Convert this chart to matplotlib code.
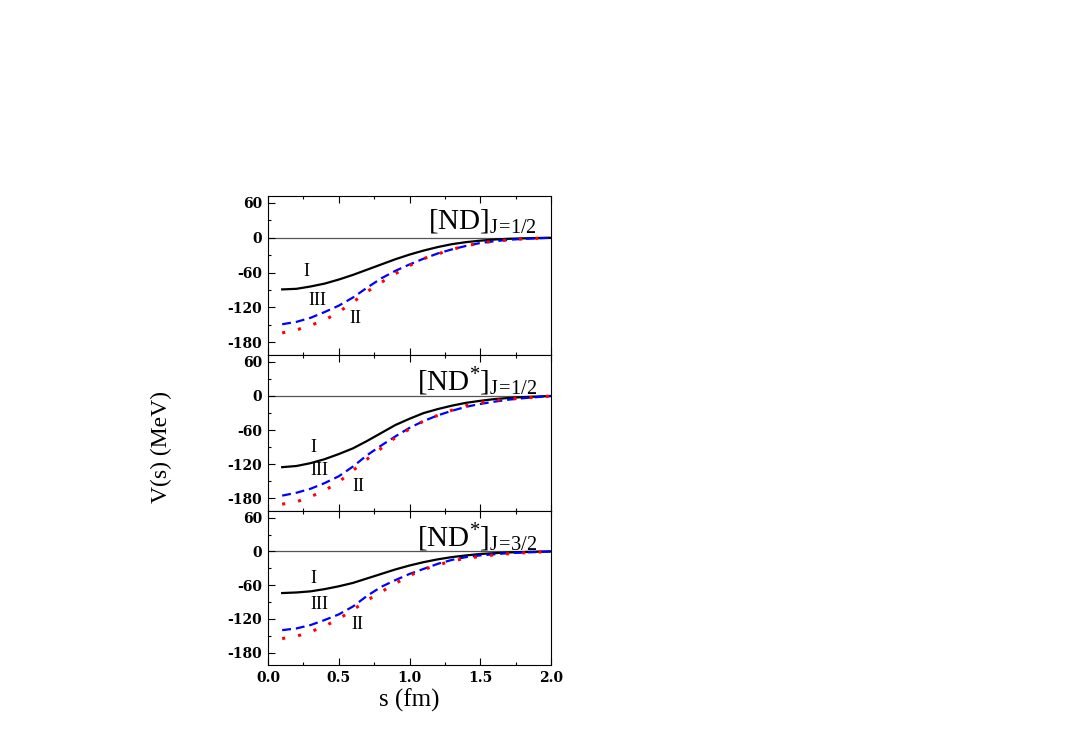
import numpy as np
import matplotlib
matplotlib.use("Agg")
import matplotlib.pyplot as plt
from matplotlib.ticker import MultipleLocator

plt.rcParams['font.family'] = ['Liberation Serif', 'DejaVu Serif']
plt.rcParams['mathtext.fontset'] = 'custom'
plt.rcParams['mathtext.rm'] = 'Liberation Serif'
plt.rcParams['mathtext.it'] = 'Liberation Serif:italic'
plt.rcParams['axes.unicode_minus'] = False

s = [0.1, 0.2, 0.3, 0.4, 0.5, 0.6, 0.7, 0.8, 0.9, 1.0,
     1.1, 1.2, 1.3, 1.4, 1.5, 1.6, 1.7, 1.8, 1.9, 2.0]

# Panel 1: [ND] J=1/2
nd12_I = [-89, -88, -84, -79, -72, -64, -55, -46, -37, -29,
          -22, -16, -11, -7.5, -5, -3, -1.8, -1, -0.4, 0]
nd12_II = [-164, -159, -151, -142, -128, -111, -93, -77, -62, -48,
           -36, -28, -20, -14, -9, -6, -3.5, -2, -1, 0]
nd12_III = [-149, -145, -138, -128, -117, -103, -86, -70, -57, -46,
            -36, -27, -20, -14, -9, -6, -3.5, -2, -1, 0]

# Panel 2: [ND*] J=1/2
nds12_I = [-125, -123, -118, -111, -102, -92, -79, -65, -51, -40,
           -30, -23, -17, -12, -8.5, -5.5, -3.5, -2, -1, 0]
nds12_II = [-190, -186, -177, -166, -151, -131, -111, -92, -73, -58,
            -44, -34, -25, -17, -12, -8, -5.5, -3.5, -2, 0]
nds12_III = [-175, -170, -163, -153, -141, -124, -104, -87, -71, -56,
             -44, -34, -26, -19, -14, -10, -6.5, -4, -2, 0]

# Panel 3: [ND*] J=3/2
nds32_I = [-74, -73, -71, -67, -62, -56, -48, -40, -32, -25,
           -19, -14, -10, -7, -4.5, -3, -1.8, -1, -0.4, 0]
nds32_II = [-155, -151, -143, -133, -120, -104, -87, -72, -57, -43,
            -32, -24, -17, -12, -9, -6, -4, -2.5, -1.2, 0]
nds32_III = [-140, -137, -131, -122, -112, -98, -79, -63, -51, -40,
             -31, -22, -15, -10, -7, -5, -3, -2, -1, 0]

titles = [r'$\mathregular{[ND]_{J\!=\!1/2}}$',
          r'$\mathregular{[ND^{*}]_{J\!=\!1/2}}$',
          r'$\mathregular{[ND^{*}]_{J\!=\!3/2}}$']
panels = [(nd12_I, nd12_II, nd12_III),
          (nds12_I, nds12_II, nds12_III),
          (nds32_I, nds32_II, nds32_III)]
label_pos = [
    [(0.27, -58), (0.62, -139), (0.35, -108)],
    [(0.32, -90), (0.64, -159), (0.36, -131)],
    [(0.32, -49), (0.63, -130), (0.36, -95)],
]
xtick_labels = ['0.0', '0.5', '1.0', '1.5', '2.0']

fig = plt.figure(figsize=(10.9, 7.36), dpi=100)
left, width = 0.2459, 0.2596
bounds = [(0.5177, 0.7337), (0.3057, 0.5177), (0.0965, 0.3057)]
tick_font = dict(family='DejaVu Serif', size=10, weight='bold')

axes = []
for i, (b, t) in enumerate(bounds):
    ax = fig.add_axes([left, b, width, t - b])
    axes.append(ax)
    I, II, III = panels[i]
    ax.axhline(0, color='#555555', lw=0.9, zorder=1)
    ax.plot(s, I, color='black', lw=1.6, zorder=3)
    ax.plot(s, III, color='blue', lw=1.6, linestyle=(0, (4, 2.2)), zorder=3)
    ax.plot(s, II, color='red', lw=2.2, linestyle=(0, (1, 4.3)), zorder=3)
    ax.set_xlim(0, 2.0)
    ax.set_ylim(-202, 72)
    ax.yaxis.set_major_locator(MultipleLocator(60))
    ax.yaxis.set_minor_locator(MultipleLocator(30))
    ax.xaxis.set_major_locator(MultipleLocator(0.5))
    ax.xaxis.set_minor_locator(MultipleLocator(0.25))
    ax.tick_params(which='major', direction='in', length=5, width=0.8,
                   top=True, pad=4)
    ax.tick_params(which='minor', direction='in', length=2.5, width=0.8,
                   top=True)
    yt = ax.get_yticks()
    ax.set_yticks(yt)
    ax.set_yticklabels(['%d' % v for v in yt], fontdict=tick_font)
    ax.set_ylim(-202, 72)
    for sp in ax.spines.values():
        sp.set_linewidth(0.8)
    ax.text(0.95, 0.93, titles[i], transform=ax.transAxes, ha='right',
            va='top', fontsize=21)
    names = ['I', 'II', 'III']
    for name, (x, y) in zip(names, label_pos[i]):
        ax.text(x, y, name, ha='center', va='center', fontsize=13)
    if i < 2:
        ax.tick_params(labelbottom=False)

axes[2].set_xticks([0.0, 0.5, 1.0, 1.5, 2.0])
axes[2].set_xticklabels(xtick_labels, fontdict=tick_font)
axes[2].set_xlim(0, 2.0)
axes[2].set_xlabel('s (fm)', fontsize=18, labelpad=3)
fig.text(0.148, 0.393, 'V(s) (MeV)', rotation=90, ha='center', va='center',
         fontsize=17)

fig.savefig('out.png', dpi=100)
